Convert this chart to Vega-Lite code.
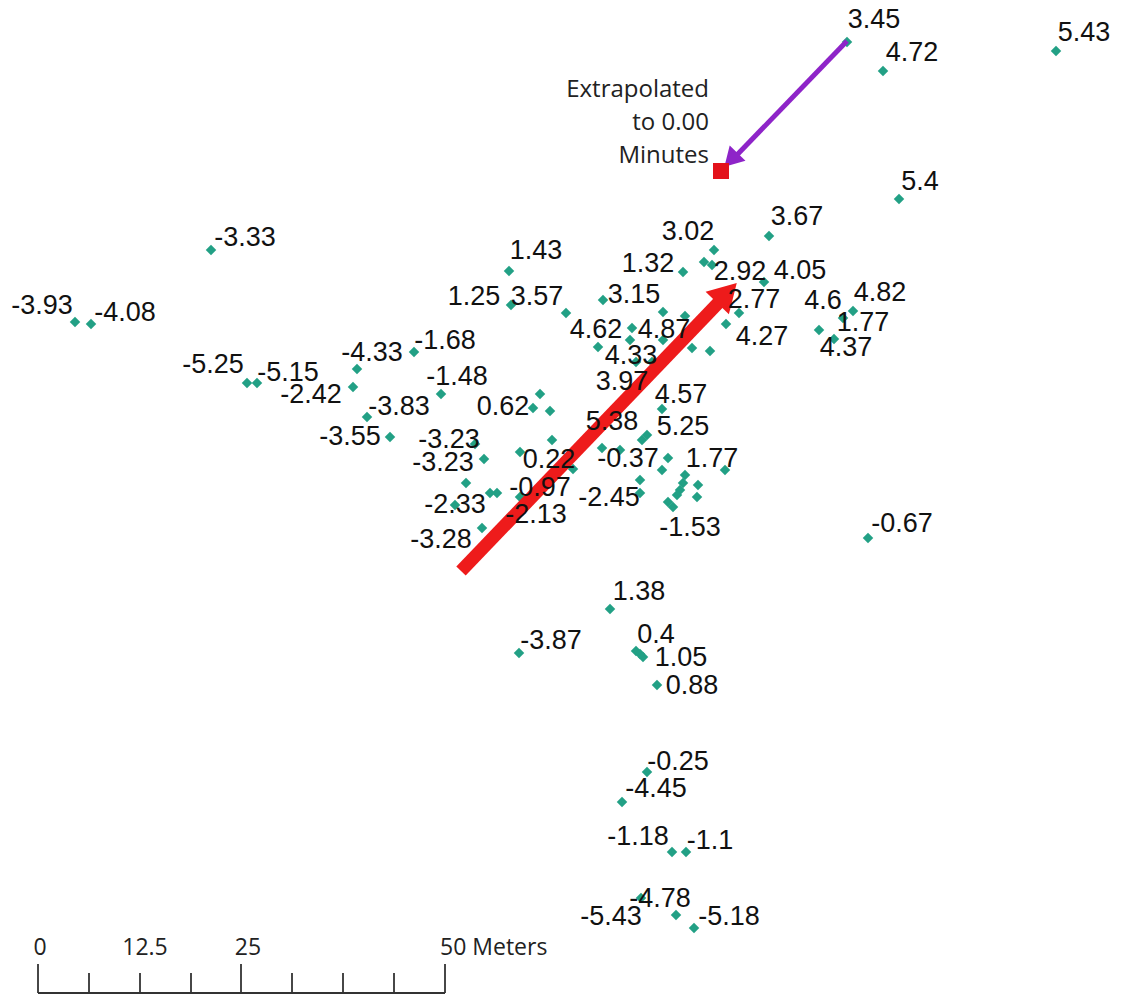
{
  "$schema": "https://vega.github.io/schema/vega-lite/v6.json",
  "width": 1121,
  "height": 997,
  "autosize": {"type": "fit", "contains": "padding"},
  "padding": 0,
  "background": "white",
  "config": {"view": {"stroke": null}},
  "datasets": {
    "pts": [
      {"x":847,"y":42,"v":"3.45","lx":874,"ly":20},
      {"x":883,"y":71,"v":"4.72","lx":912,"ly":53},
      {"x":1056,"y":51,"v":"5.43","lx":1084,"ly":33},
      {"x":899,"y":199,"v":"5.4","lx":920,"ly":182},
      {"x":769,"y":236,"v":"3.67","lx":797,"ly":217},
      {"x":714,"y":250,"v":"3.02","lx":688,"ly":232},
      {"x":683,"y":272,"v":"1.32","lx":648,"ly":264},
      {"x":712,"y":265,"v":"2.92","lx":740,"ly":272},
      {"x":764,"y":282,"v":"4.05","lx":800,"ly":271},
      {"x":739,"y":313,"v":"2.77","lx":754,"ly":300},
      {"x":726,"y":324,"v":"4.27","lx":762,"ly":337},
      {"x":819,"y":330,"v":"4.6","lx":823,"ly":301},
      {"x":853,"y":311,"v":"4.82","lx":880,"ly":293},
      {"x":843,"y":318,"v":"1.77","lx":863,"ly":323},
      {"x":834,"y":339,"v":"4.37","lx":846,"ly":348},
      {"x":211,"y":250,"v":"-3.33","lx":245,"ly":238},
      {"x":75,"y":322,"v":"-3.93","lx":42,"ly":306},
      {"x":91,"y":324,"v":"-4.08","lx":125,"ly":313},
      {"x":509,"y":271,"v":"1.43","lx":536,"ly":251},
      {"x":511,"y":305,"v":"1.25","lx":474,"ly":297},
      {"x":566,"y":313,"v":"3.57","lx":537,"ly":297},
      {"x":603,"y":300,"v":"3.15","lx":634,"ly":295},
      {"x":598,"y":347,"v":"4.62","lx":596,"ly":330},
      {"x":663,"y":312,"v":"4.87","lx":664,"ly":330},
      {"x":630,"y":340,"v":"4.33","lx":631,"ly":356},
      {"x":652,"y":362,"v":"3.97","lx":622,"ly":382},
      {"x":662,"y":409,"v":"4.57","lx":681,"ly":395},
      {"x":602,"y":448,"v":"5.38","lx":612,"ly":422},
      {"x":642,"y":440,"v":"5.25","lx":683,"ly":427},
      {"x":668,"y":458,"v":"-0.37","lx":628,"ly":459},
      {"x":725,"y":470,"v":"1.77","lx":712,"ly":459},
      {"x":640,"y":480,"v":"-2.45","lx":609,"ly":498},
      {"x":673,"y":507,"v":"-1.53","lx":690,"ly":528},
      {"x":247,"y":383,"v":"-5.25","lx":213,"ly":365},
      {"x":257,"y":383,"v":"-5.15","lx":288,"ly":373},
      {"x":357,"y":369,"v":"-4.33","lx":372,"ly":353},
      {"x":414,"y":352,"v":"-1.68","lx":445,"ly":341},
      {"x":353,"y":387,"v":"-2.42","lx":311,"ly":395},
      {"x":367,"y":417,"v":"-3.83","lx":399,"ly":407},
      {"x":390,"y":437,"v":"-3.55","lx":350,"ly":437},
      {"x":441,"y":394,"v":"-1.48","lx":457,"ly":377},
      {"x":533,"y":408,"v":"0.62","lx":503,"ly":407},
      {"x":475,"y":444,"v":"-3.23","lx":449,"ly":440},
      {"x":484,"y":459,"v":"-3.23","lx":443,"ly":463},
      {"x":520,"y":452,"v":"0.22","lx":549,"ly":460},
      {"x":497,"y":493,"v":"-0.97","lx":540,"ly":488},
      {"x":520,"y":497,"v":"-2.13","lx":536,"ly":515},
      {"x":455,"y":505,"v":"-2.33","lx":455,"ly":505},
      {"x":482,"y":528,"v":"-3.28","lx":441,"ly":540},
      {"x":610,"y":609,"v":"1.38","lx":639,"ly":592},
      {"x":519,"y":653,"v":"-3.87","lx":551,"ly":641},
      {"x":636,"y":651,"v":"0.4","lx":656,"ly":635},
      {"x":643,"y":657,"v":"1.05","lx":681,"ly":658},
      {"x":657,"y":685,"v":"0.88","lx":692,"ly":686},
      {"x":647,"y":772,"v":"-0.25","lx":678,"ly":762},
      {"x":622,"y":802,"v":"-4.45","lx":656,"ly":789},
      {"x":672,"y":852,"v":"-1.18","lx":638,"ly":837},
      {"x":686,"y":852,"v":"-1.1","lx":710,"ly":841},
      {"x":641,"y":898,"v":"-4.78","lx":660,"ly":899},
      {"x":676,"y":915,"v":"-5.43","lx":611,"ly":917},
      {"x":694,"y":928,"v":"-5.18","lx":729,"ly":917},
      {"x":868,"y":538,"v":"-0.67","lx":902,"ly":524},
      {"x":704,"y":262},
      {"x":632,"y":328},
      {"x":685,"y":316},
      {"x":663,"y":340},
      {"x":692,"y":348},
      {"x":710,"y":351},
      {"x":636,"y":362},
      {"x":540,"y":394},
      {"x":550,"y":411},
      {"x":552,"y":440},
      {"x":466,"y":483},
      {"x":490,"y":493},
      {"x":573,"y":469},
      {"x":647,"y":435},
      {"x":620,"y":450},
      {"x":662,"y":470},
      {"x":640,"y":493},
      {"x":685,"y":475},
      {"x":683,"y":483},
      {"x":698,"y":485},
      {"x":697,"y":497},
      {"x":680,"y":490},
      {"x":677,"y":495},
      {"x":668,"y":502},
      {"x":640,"y":654}
    ],
    "arrows": [
      {"name":"movement","x":461,"y":571,"x2":723,"y2":298,"hx":727,"hy":293},
      {"name":"extrapolation","x":847,"y":41,"x2":734,"y2":158,"hx":731,"hy":160}
    ],
    "origin": [
      {"x":721,"y":171,"text":["Extrapolated","to 0.00","Minutes"],"tx":709,"ty":90}
    ],
    "scalebar": [
      {"m":0,"x":38,"y":993,"top":964,"ly":948,"label":"0","lx":40},
      {"m":6.25,"x":89,"y":993,"top":973},
      {"m":12.5,"x":140,"y":993,"top":973,"ly":948,"label":"12.5","lx":145},
      {"m":18.75,"x":191,"y":993,"top":973},
      {"m":25,"x":241,"y":993,"top":964,"ly":948,"label":"25","lx":248},
      {"m":31.25,"x":292,"y":993,"top":973},
      {"m":37.5,"x":343,"y":993,"top":973},
      {"m":43.75,"x":394,"y":993,"top":973},
      {"m":50,"x":445,"y":993,"top":964,"ly":948,"label":"50 Meters","lx":440,"left":true}
    ],
    "bar": [
      {"x":38,"x2":445,"y":993}
    ]
  },
  "encoding": {
    "x": {"field":"x","type":"quantitative","scale":{"domain":[0,1121],"nice":false,"zero":false},"axis":null},
    "y": {"field":"y","type":"quantitative","scale":{"domain":[0,997],"nice":false,"zero":false,"reverse":true},"axis":null}
  },
  "layer": [
    {
      "data": {"name":"pts"},
      "mark": {"type":"point","shape":"diamond","filled":true,"size":110,"color":"#22a085","opacity":1}
    },
    {
      "data": {"name":"arrows"},
      "transform": [{"filter":"datum.name == 'movement'"}],
      "mark": {"type":"rule","color":"#ee1b1b","strokeWidth":13,"strokeCap":"butt"},
      "encoding": {"x2":{"field":"x2"},"y2":{"field":"y2"}}
    },
    {
      "data": {"name":"arrows"},
      "transform": [{"filter":"datum.name == 'movement'"}],
      "mark": {"type":"point","shape":"triangle-up","filled":true,"size":1050,"angle":44,"color":"#ee1b1b","opacity":1},
      "encoding": {"x":{"field":"hx","type":"quantitative"},"y":{"field":"hy","type":"quantitative"}}
    },
    {
      "data": {"name":"arrows"},
      "transform": [{"filter":"datum.name == 'extrapolation'"}],
      "mark": {"type":"rule","color":"#8e24c8","strokeWidth":5,"strokeCap":"butt"},
      "encoding": {"x2":{"field":"x2"},"y2":{"field":"y2"}}
    },
    {
      "data": {"name":"arrows"},
      "transform": [{"filter":"datum.name == 'extrapolation'"}],
      "mark": {"type":"point","shape":"triangle-up","filled":true,"size":480,"angle":224,"color":"#8e24c8","opacity":1},
      "encoding": {"x":{"field":"hx","type":"quantitative"},"y":{"field":"hy","type":"quantitative"}}
    },
    {
      "data": {"name":"origin"},
      "mark": {"type":"point","shape":"square","filled":true,"size":256,"color":"#e3121b","opacity":1}
    },
    {
      "data": {"name":"origin"},
      "mark": {"type":"text","align":"right","baseline":"middle","font":"Open Sans","fontSize":24,"lineHeight":33,"color":"#222222"},
      "encoding": {"x":{"field":"tx","type":"quantitative"},"y":{"field":"ty","type":"quantitative"},"text":{"field":"text"}}
    },
    {
      "data": {"name":"pts"},
      "transform": [{"filter":"isValid(datum.v)"}],
      "mark": {"type":"text","align":"center","baseline":"middle","font":"Liberation Sans","fontSize":27,"color":"#111111"},
      "encoding": {"x":{"field":"lx","type":"quantitative"},"y":{"field":"ly","type":"quantitative"},"text":{"field":"v"}}
    },
    {
      "data": {"name":"bar"},
      "mark": {"type":"rule","color":"#333333","strokeWidth":1.8},
      "encoding": {"x2":{"field":"x2"}}
    },
    {
      "data": {"name":"scalebar"},
      "mark": {"type":"rule","color":"#333333","strokeWidth":1.8},
      "encoding": {"y2":{"field":"top"}}
    },
    {
      "data": {"name":"scalebar"},
      "transform": [{"filter":"isValid(datum.label) && !datum.left"}],
      "mark": {"type":"text","align":"center","baseline":"middle","font":"Open Sans","fontSize":23,"color":"#222222"},
      "encoding": {"x":{"field":"lx","type":"quantitative"},"y":{"field":"ly","type":"quantitative"},"text":{"field":"label"}}
    },
    {
      "data": {"name":"scalebar"},
      "transform": [{"filter":"datum.left == true"}],
      "mark": {"type":"text","align":"left","baseline":"middle","font":"Open Sans","fontSize":23,"color":"#222222"},
      "encoding": {"x":{"field":"lx","type":"quantitative"},"y":{"field":"ly","type":"quantitative"},"text":{"field":"label"}}
    }
  ]
}
